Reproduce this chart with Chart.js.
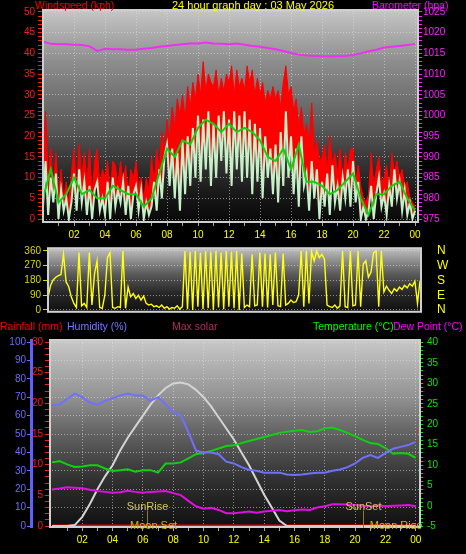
<!DOCTYPE html>
<html>
<head>
<meta charset="utf-8">
<script src="https://cdn.jsdelivr.net/npm/chart.js@4.4.1/dist/chart.umd.min.js"></script>
<style>
    html, body { margin: 0; padding: 0; background: #000; }
    body { width: 466px; height: 554px; position: relative; overflow: hidden; font-family: "Liberation Sans", Arial, sans-serif; }
    .box { position: absolute; left: 0; width: 466px; }
    .box canvas { display: block; }
    .lbl { position: absolute; font-size: 11px; line-height: 12px; white-space: nowrap; z-index: 2; }
    .sm { font-size: 10.5px; }
</style>
</head>
<body>
<div class="box" style="top:0;height:246px"><canvas id="windChart" width="466" height="246"></canvas></div>
<div class="box" style="top:240px;height:80px"><canvas id="dirChart" width="466" height="80"></canvas></div>
<div class="box" style="top:318px;height:236px"><canvas id="climaChart" width="466" height="236"></canvas></div>

<div class="lbl sm" style="left:35px;top:-1px;color:#ff0000">Windspeed (kph)</div>
<div class="lbl" style="left:172px;top:-1px;color:#ffff00">24 hour graph day : 03 May 2026</div>
<div class="lbl sm" style="left:372px;top:-1px;color:#ff00ff">Barometer (hpa)</div>
<div class="lbl sm" style="left:0px;top:320px;color:#ff0000">Rainfall (mm)</div>
<div class="lbl sm" style="left:67px;top:320px;color:#7878ff">Humidity (%)</div>
<div class="lbl sm" style="left:172px;top:320px;color:#b03060">Max solar</div>
<div class="lbl sm" style="left:313px;top:320px;color:#00ff00">Temperature (°C)</div>
<div class="lbl sm" style="left:393px;top:320px;color:#ff00ff">Dew Point (°C)</div>

<script>
// wind every 10 minutes (kph)
const WIND_GUST = [
    13, 26, 10, 17, 8, 16,
    6, 12, 5, 9, 4, 11,
    17, 7, 18, 10, 16, 9,
    17, 6, 14, 17, 8, 12,
    10, 14, 6, 14, 13, 8,
    14, 9, 13, 6, 12, 10,
    14, 8, 10, 5, 10, 7,
    15, 9, 17, 12, 21, 16,
    24, 19, 27, 22, 29, 25,
    30, 24, 32, 27, 33, 29,
    35, 30, 38, 31, 35, 33,
    32, 36, 30, 34, 31, 35,
    33, 37, 30, 36, 32, 34,
    31, 37, 33, 36, 30, 34,
    30, 33, 28, 31, 29, 32,
    29, 31, 27, 33, 37, 30,
    32, 26, 29, 22, 27, 20,
    23, 18, 28, 16, 19, 14,
    15, 18, 12, 20, 13, 16,
    11, 17, 9, 16, 12, 17,
    17, 9, 13, 8, 5, 4,
    6, 16, 8, 12, 15, 9,
    10, 13, 7, 16, 11, 14,
    10, 12, 8, 9, 5, 4,
    3
];
const WIND_SPEED = [
    3, 14, 1, 10, 4, 11,
    0, 7, 2, 5, 0, 4,
    11, 2, 12, 4, 9, 1,
    8, 0, 7, 9, 2, 5,
    1, 9, 0, 10, 3, 7,
    4, 9, 1, 8, 0, 6,
    8, 2, 7, 0, 4, 1,
    3, 9, 2, 12, 5, 15,
    18, 8, 17, 5, 16, 2,
    19, 6, 20, 8, 22, 10,
    25, 9, 24, 12, 26, 8,
    23, 10, 25, 14, 26, 11,
    24, 8, 26, 12, 25, 9,
    26, 10, 24, 6, 23, 9,
    22, 5, 20, 10, 17, 6,
    18, 4, 21, 8, 26, 10,
    20, 6, 17, 3, 20, 8,
    11, 2, 14, 5, 12, 0,
    9, 3, 11, 1, 13, 4,
    8, 2, 10, 5, 12, 3,
    14, 4, 9, 0, 3, 0,
    2, 8, 0, 6, 10, 3,
    6, 1, 8, 3, 12, 5,
    9, 2, 7, 1, 4, 0,
    2
];
const WIND_DIR = [
    76, 150, 183, 200, 210, 215,
    340, 171, 143, 80, 40, 15,
    350, 25, 40, 15, 350, 30,
    220, 300, 15, 10, 90, 320,
    350, 15, 10, 20, 15, 360,
    10, 140, 80, 100, 70, 90,
    60, 85, 40, 30, 35, 20,
    25, 15, 30, 10, 20, 5,
    15, 10, 25, 5, 20, 360,
    5, 355, 0, 360, 20, 350,
    5, 360, 10, 355, 0, 360,
    15, 350, 5, 360, 20, 355,
    10, 360, 0, 345, 15, 30,
    20, 340, 25, 30, 350, 20,
    345, 15, 340, 30, 350, 25,
    20, 345, 30, 40, 60, 45,
    50, 90, 360, 20, 360, 40,
    355, 300, 360, 320, 340, 310,
    30, 20, 15, 30, 10, 25,
    360, 20, 15, 360, 25, 30,
    360, 20, 280, 300, 200, 230,
    350, 360, 20, 360, 110, 145,
    120, 100, 130, 115, 140, 125,
    150, 135, 160, 145, 175, 40,
    180
];

// every 30 minutes
const WIND_AVG = [5, 12, 4, 6, 10, 6, 7, 5, 5, 8, 7, 6, 6, 3, 5, 11, 17, 15, 19, 18,
    22, 24, 23, 21, 23, 21, 22, 21, 19, 15, 14, 17, 12, 18, 9, 9, 8, 6, 7, 9,
    11, 5, 1, 6, 6, 8, 9, 5, 2];
const BAROMETER = [1017.8, 1017.3, 1017.2, 1017.2, 1017.1, 1017.0, 1016.7, 1015.6, 1016.1, 1016.0,
    1016.0, 1015.9, 1015.9, 1016.1, 1016.3, 1016.6, 1016.8, 1017.0, 1017.2, 1017.4,
    1017.4, 1017.6, 1017.4, 1017.3, 1017.2, 1017.4, 1017.1, 1016.8, 1016.6, 1016.3,
    1016.0, 1015.6, 1015.1, 1014.7, 1014.5, 1014.4, 1014.3, 1014.3, 1014.3, 1014.4,
    1014.6, 1015.0, 1015.5, 1015.9, 1016.4, 1016.6, 1016.8, 1017.0, 1017.3];
const HUMIDITY = [65.6, 66, 69, 72, 70, 67, 66, 68, 69.5, 71,
    72, 71, 71, 68, 70, 66, 62, 60, 51, 41,
    40, 40, 39, 35, 34, 32, 30.5, 30, 29, 29,
    29, 28, 27.7, 28, 28.5, 29, 29, 30, 30.7, 32,
    34, 37, 38.6, 37, 39.6, 42, 43, 44, 45.7];
const TEMPERATURE = [10.7, 11, 10.2, 9.6, 9.7, 10, 10, 9.2, 8.6, 8.8,
    9, 8.4, 8.8, 8.8, 8.2, 10.4, 10.4, 10.7, 11.7, 12.7,
    13, 13.5, 14.1, 14.7, 14.9, 15.4, 15.9, 16.4, 16.9, 17.4,
    17.9, 18.2, 18.4, 18.6, 18.1, 18.3, 19, 19.2, 18.6, 17.9,
    17.1, 16.2, 15.4, 15.2, 14.2, 12.8, 13, 12.8, 11.8];
const DEW_POINT = [4.1, 4.3, 4.6, 4.5, 4.4, 4.0, 3.7, 3.5, 3.3, 3.4,
    3.8, 3.5, 3.3, 3.5, 3.6, 3.7, 3.2, 2.7, 1.3, 0,
    -0.6, -0.4, -0.9, -1.7, -1.7, -1.5, -1.3, -1.6, -1.3, -1.1,
    -0.9, -1.2, -1, -0.8, -0.9, -0.3, 0, 0.5, 0.5, 0.4,
    0.3, 0.1, 0, 0.2, 0, 0.1, 0.2, 0.3, 0];
const MAX_SOLAR = [0, 0, 0, 0.5, 5, 12, 20, 27, 33, 41,
    48, 54, 60, 66, 71, 75, 77.5, 78, 77, 74,
    70, 65, 59, 53, 47, 40, 33, 25, 17, 10,
    3, 0, 0, 0, 0, 0, 0, 0, 0, 0,
    0, 0, 0, 0, 0, 0, 0, 0, 0];
// hourly
const RAINFALL = [0, 0, 0, 0, 0, 0, 0, 0, 0, 0, 0, 0, 0, 0, 0, 0, 0, 0, 0, 0, 0, 0, 0, 0, 0];

const SUN_EVENTS = [['SunRise', 6.3], ['SunSet', 20.5]];
const MOON_EVENTS = [['Moon Set', 6.7], ['Moon Rise', 22.7]];

// axis labels
const HOUR_TICKS = [2, 4, 6, 8, 10, 12, 14, 16, 18, 20, 22, 24];
const WIND_LABELS = [0, 5, 10, 15, 20, 25, 30, 35, 40, 45, 50];
const BARO_LABELS = [975, 980, 985, 990, 995, 1000, 1005, 1010, 1015, 1020, 1025];
const DIR_LABELS = [0, 90, 180, 270, 360];
const COMPASS = ['N', 'E', 'S', 'W', 'N'];
const HUM_LABELS = [0, 10, 20, 30, 40, 50, 60, 70, 80, 90, 100];
const RAIN_LABELS = [0, 5, 10, 15, 20, 25, 30];
const TEMP_LABELS = [-5, 0, 5, 10, 15, 20, 25, 30, 35, 40];

const FONT = { family: "'Liberation Sans', Arial, sans-serif", size: 10 };
const GRID = 'rgba(225, 225, 225, 0.55)';

function serie(values, step) {
    return values.map((v, i) => ({ x: i * step, y: v }));
}

function minorSteps(labels) {
    const out = [];
    for (let v = labels[0]; v <= labels[labels.length - 1]; v++) out.push(v);
    return out;
}

function yAxis(o) {
    const ticks = o.minor ? minorSteps(o.labels) : o.labels;
    return {
        type: 'linear', position: o.position, min: o.min, max: o.max, weight: o.weight || 0, z: o.z || 0,
        afterBuildTicks: s => { s.ticks = ticks.map(v => ({ value: v })); },
        afterFit: s => { s.width = o.width; },
        ticks: {
            color: o.color, font: o.font || FONT, padding: o.padding, autoSkip: false,
            callback: v => {
                const i = o.labels.indexOf(v);
                if (i < 0) return '';
                return o.names ? o.names[i] : String(v);
            }
        },
        grid: {
            drawOnChartArea: !!o.grid,
            color: c => (o.grid && c.tick && o.labels.includes(c.tick.value)) ? GRID : 'transparent',
            drawTicks: o.tickLength > 0,
            tickColor: o.tickColor || o.color,
            tickLength: o.tickLength,
            tickWidth: 1
        },
        border: { display: !!o.border, color: o.border || 'transparent', width: o.borderWidth || 1, dash: [1, 2] }
    };
}

// hour axis: a mark every hour, label and grid line every two hours
function hourAxis(min, max, height, padding) {
    const marks = minorSteps([1, 24]);
    return {
        type: 'linear', position: 'bottom', min, max,
        afterBuildTicks: s => { s.ticks = marks.map(v => ({ value: v })); },
        afterFit: s => { s.height = height; },
        ticks: {
            color: '#ffff00', font: FONT, padding, autoSkip: false, maxRotation: 0,
            callback: v => HOUR_TICKS.includes(v) ? String(v % 24).padStart(2, '0') : ''
        },
        grid: {
            color: c => (c.tick && HOUR_TICKS.includes(c.tick.value)) ? GRID : 'transparent',
            drawTicks: true, tickLength: 4, tickColor: '#a8a8a8', tickWidth: 1
        },
        border: { display: false, dash: [1, 2] }
    };
}

const panel = {
    id: 'panel',
    beforeDraw(chart, args, opts) {
        const { ctx, chartArea: a } = chart;
        const g = ctx.createLinearGradient(0, a.top, 0, a.bottom);
        opts.stops.forEach(([p, c]) => g.addColorStop(p, c));
        ctx.save();
        ctx.fillStyle = g;
        ctx.fillRect(a.left, a.top, a.width, a.height);
        ctx.restore();
    },
    afterDatasetsDraw(chart) {
        const { ctx, chartArea: a } = chart;
        ctx.save();
        ctx.strokeStyle = '#cfcfcf';
        ctx.lineWidth = 2;
        ctx.strokeRect(a.left, a.top, a.width, a.height);
        ctx.restore();
    }
};

const dayEvents = {
    id: 'dayEvents',
    afterDatasetsDraw(chart) {
        const { ctx, scales: { x, yHum } } = chart;
        ctx.save();
        ctx.font = "11px 'Liberation Sans', Arial, sans-serif";
        ctx.textAlign = 'center';
        ctx.textBaseline = 'middle';
        SUN_EVENTS.forEach(([label, hour]) => {
            const px = Math.round(x.getPixelForValue(hour)) + 0.5;
            ctx.strokeStyle = '#8a7a20';
            ctx.lineWidth = 1;
            ctx.beginPath();
            ctx.moveTo(px, yHum.getPixelForValue(8.5));
            ctx.lineTo(px, yHum.getPixelForValue(-1));
            ctx.stroke();
            ctx.fillStyle = '#d4c454';
            ctx.fillText(label, px, yHum.getPixelForValue(10.3));
        });
        MOON_EVENTS.forEach(([label, hour]) => {
            ctx.fillStyle = '#d8b410';
            ctx.fillText(label, x.getPixelForValue(hour), yHum.getPixelForValue(0));
        });
        ctx.restore();
    }
};

const base = {
    responsive: false,
    animation: false,
    events: [],
    elements: { point: { radius: 0 }, line: { tension: 0 } },
};

// windspeed + barometer
new Chart(document.getElementById('windChart'), {
    type: 'line',
    data: {
        datasets: [
            { data: serie(BAROMETER, 0.5), yAxisID: 'yBaro', borderColor: '#f030f0', borderWidth: 2 },
            { data: serie(WIND_AVG, 0.5), yAxisID: 'yWind', borderColor: '#10d010', borderWidth: 2 },
            { data: serie(WIND_SPEED, 1 / 6), yAxisID: 'yWind', borderColor: '#c8f0c8', borderWidth: 2 },
            { data: serie(WIND_GUST, 1 / 6), yAxisID: 'yWind', borderColor: '#ff0000', borderWidth: 1,
              backgroundColor: '#ff0000', fill: '-1' }
        ]
    },
    options: {
        ...base,
        layout: { padding: { top: 10, left: 0, right: 0, bottom: 0 } },
        plugins: {
            legend: { display: false }, tooltip: { enabled: false },
            panel: { stops: [[0, '#c6c6c6'], [0.24, '#8e8e8e'], [0.55, '#5a5a5a'], [0.7, '#383838'], [0.86, '#1a1a1a'], [1, '#080808']] }
        },
        scales: {
            x: hourAxis(0, 24.19, 24, 3),
            yWind: yAxis({ position: 'left', min: -0.72, max: 50.48, labels: WIND_LABELS, minor: true,
                color: '#ff1a1a', width: 43, tickLength: 5, padding: 3, grid: true }),
            yBaro: yAxis({ position: 'right', min: 974.28, max: 1025.48, labels: BARO_LABELS, minor: true,
                color: '#ff20ff', width: 48, tickLength: 4, padding: 1 })
        }
    },
    plugins: [panel]
});

// wind direction
new Chart(document.getElementById('dirChart'), {
    type: 'line',
    data: {
        datasets: [
            { data: serie(WIND_DIR, 1 / 6), yAxisID: 'yDir', borderColor: '#ffff10', borderWidth: 1.4 }
        ]
    },
    options: {
        ...base,
        layout: { padding: { top: 4, left: 0, right: 0, bottom: 8 } },
        plugins: {
            legend: { display: false }, tooltip: { enabled: false },
            panel: { stops: [[0, '#c0c0c0'], [0.4, '#5c5c5c'], [0.7, '#282828'], [1, '#101010']] }
        },
        scales: {
            x: { type: 'linear', display: false, min: 0, max: 24.06 },
            yDir: yAxis({ position: 'left', min: -11.4, max: 377, labels: DIR_LABELS,
                color: '#d8d800', width: 48, tickLength: 5, padding: 2, grid: true }),
            yCompass: yAxis({ position: 'right', min: -11.4, max: 377, labels: DIR_LABELS, names: COMPASS,
                color: '#ffff00', tickColor: 'transparent', width: 45, tickLength: 15, padding: 1,
                font: { family: FONT.family, size: 12 } })
        }
    },
    plugins: [panel]
});

// rain, humidity, solar, temperature, dew point
new Chart(document.getElementById('climaChart'), {
    type: 'line',
    data: {
        datasets: [
            { data: serie(HUMIDITY, 0.5), yAxisID: 'yHum', borderColor: '#7070ff', borderWidth: 2 },
            { data: serie(TEMPERATURE, 0.5), yAxisID: 'yTemp', borderColor: '#10d010', borderWidth: 2 },
            { data: serie(DEW_POINT, 0.5), yAxisID: 'yTemp', borderColor: '#e010e0', borderWidth: 2 },
            { data: serie(MAX_SOLAR, 0.5), yAxisID: 'ySolar', borderColor: '#d4d4d4', borderWidth: 2,
              segment: { borderColor: c => (c.p0.parsed.y === 0 && c.p1.parsed.y === 0) ? '#f4b4b4' : undefined } },
            { data: serie(RAINFALL, 1), yAxisID: 'yRain', borderColor: '#ff0000', borderWidth: 3 }
        ]
    },
    options: {
        ...base,
        layout: { padding: { top: 22, left: 0, right: 0, bottom: 0 } },
        plugins: {
            legend: { display: false }, tooltip: { enabled: false },
            panel: { stops: [[0, '#c8c8c8'], [0.3, '#939393'], [0.5, '#626262'], [0.75, '#303030'], [1, '#101010']] }
        },
        scales: {
            x: hourAxis(-0.13, 24.28, 27, 3),
            yHum: yAxis({ position: 'left', weight: 1, min: -0.54, max: 101.1, labels: HUM_LABELS,
                color: '#6c6cff', width: 31, tickLength: 4, padding: 1, grid: true, border: '#6060ff', borderWidth: 3 }),
            yRain: yAxis({ position: 'left', weight: 0, min: -0.16, max: 30.33, labels: RAIN_LABELS, minor: true,
                color: '#ff1a1a', width: 19, tickLength: 5, padding: 2 }),
            ySolar: { type: 'linear', display: false, min: -0.54, max: 101.1 },
            yTemp: yAxis({ position: 'right', z: 1, min: -5.07, max: 40.56, labels: TEMP_LABELS, minor: true,
                color: '#10e010', width: 46, tickLength: 3, padding: 4, border: '#10d010', borderWidth: 1 })
        }
    },
    plugins: [panel, dayEvents]
});
</script>
</body>
</html>
